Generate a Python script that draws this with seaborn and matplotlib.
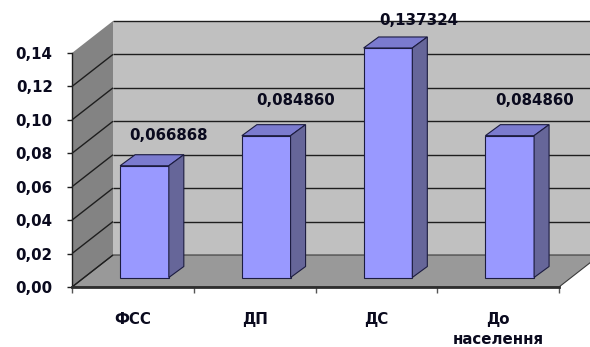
import matplotlib
matplotlib.use("Agg")
import matplotlib.pyplot as plt
import seaborn as sns
import pandas as pd
from matplotlib.patches import Polygon
from matplotlib.transforms import ScaledTranslation
from matplotlib.ticker import FixedLocator, FuncFormatter

# ---- data ----
categories = ["ФСС", "ДП", "ДС", "До\nнаселення"]
values = [0.066868, 0.084860, 0.137324, 0.084860]
value_labels = ["0,066868", "0,084860", "0,137324", "0,084860"]
y_ticks = [0.00, 0.02, 0.04, 0.06, 0.08, 0.10, 0.12, 0.14]

# ---- style ----
sns.set_theme(style="white")
plt.rcParams['font.family'] = ['DejaVu Sans']
FS = 10.8
TXT = "#0a0a1e"
W, H = 590, 347
PX_X = 487 / 4.0          # pixels per category
PX_Y = 234 / 0.14         # pixels per value unit
D, DY = 41 / PX_X, 32 / PX_Y          # wall depth (data units)
BD, BDY = 15 / PX_X, 11 / PX_Y        # bar depth (data units)
label_offsets = [(36, 40), (41, 45), (42, 37), (37, 45)]  # px from (i, v)

fig = plt.figure(figsize=(W / 100, H / 100), dpi=100)
ax = fig.add_axes([72 / W, (H - 287) / H, 487 / W, 234 / H])
ax.patch.set_visible(False)

df = pd.DataFrame({"cat": categories, "val": values})
sns.barplot(data=df, x="cat", y="val", ax=ax, color="#9999FF", width=0.40,
            saturation=1, edgecolor="#1c1c40", linewidth=0.8)
ax.set_xlim(-0.5, 3.5)
ax.set_ylim(0, 0.14)

# walls and floor
x0, x1, ytop = -0.5, 3.5, 0.14
back = Polygon([(x0 + D, DY), (x1 + D, DY), (x1 + D, ytop + DY), (x0 + D, ytop + DY)],
               closed=True, facecolor="#C0C0C0", edgecolor="none", zorder=0.5,
               transform=ax.transData, clip_on=False)
side = Polygon([(x0, 0), (x0, ytop), (x0 + D, ytop + DY), (x0 + D, DY)],
               closed=True, facecolor="#838383", edgecolor="none", zorder=0.6,
               transform=ax.transData, clip_on=False)
floor = Polygon([(x0, 0), (x1, 0), (x1 + D, DY), (x0 + D, DY)],
                closed=True, facecolor="#999999", edgecolor="#3a3a3a", linewidth=0.8,
                zorder=0.7, transform=ax.transData, clip_on=False)
for p in (back, side, floor):
    ax.add_patch(p)

for v in y_ticks:
    if v > 0:
        ax.plot([x0 + D, x1 + D], [v + DY, v + DY], color="#1e1e1e", lw=1.0,
                zorder=1, clip_on=False, solid_capstyle="butt")
    if v < ytop:
        ax.plot([x0, x0 + D], [v, v + DY], color="#1e1e1e", lw=1.0,
                zorder=1, clip_on=False, solid_capstyle="butt")

# 3D bars: shift front faces into depth and add side/top faces
shift = ax.transData + ScaledTranslation(11.6 / 100, 9.5 / 100, fig.dpi_scale_trans)
for p in list(ax.patches):
    if p in (back, side, floor):
        continue
    p.set_transform(shift)
    p.set_clip_on(False)
    p.set_zorder(3)
    bx, bw, bh = p.get_x(), p.get_width(), p.get_height()
    top = Polygon([(bx, bh), (bx + bw, bh), (bx + bw + BD, bh + BDY), (bx + BD, bh + BDY)],
                  closed=True, facecolor="#7B7BCF", edgecolor="#1c1c40", linewidth=0.8,
                  zorder=3, transform=shift, clip_on=False)
    sd = Polygon([(bx + bw, 0), (bx + bw + BD, BDY), (bx + bw + BD, bh + BDY), (bx + bw, bh)],
                 closed=True, facecolor="#666699", edgecolor="#1c1c40", linewidth=0.8,
                 zorder=3, transform=shift, clip_on=False)
    ax.add_patch(top)
    ax.add_patch(sd)

# value labels
for i, (v, lab) in enumerate(zip(values, value_labels)):
    dx, dy = label_offsets[i]
    ax.annotate(lab, xy=(i, v), xytext=(dx * 0.72, dy * 0.72), textcoords="offset points",
                ha="center", va="center", fontsize=FS, fontweight="bold", color=TXT,
                zorder=6, annotation_clip=False)

# axes styling
for s in ("top", "right"):
    ax.spines[s].set_visible(False)
ax.spines["left"].set_color("#1e1e1e")
ax.spines["left"].set_linewidth(1.0)
ax.spines["bottom"].set_color("#2e2e2e")
ax.spines["bottom"].set_linewidth(2.0)
ax.spines["left"].set_zorder(2)
ax.spines["bottom"].set_zorder(2)

ax.yaxis.set_major_locator(FixedLocator(y_ticks))
ax.yaxis.set_major_formatter(FuncFormatter(lambda v, _: f"{v:.2f}".replace(".", ",")))
ax.tick_params(axis="y", which="major", left=True, length=3.6, width=1.0,
               color="#1e1e1e", pad=10.3, labelsize=FS, labelcolor=TXT)
for t in ax.get_yticklabels():
    t.set_fontweight("bold")

ax.set_xticks(range(len(categories)))
ax.set_xticklabels(categories, fontsize=FS, fontweight="bold", color=TXT, linespacing=1.45)
ax.xaxis.set_minor_locator(FixedLocator([-0.5, 0.5, 1.5, 2.5, 3.5]))
ax.tick_params(axis="x", which="major", bottom=True, length=0, pad=18)
ax.tick_params(axis="x", which="minor", bottom=True, length=4, width=1.0, color="#555555")
ax.set_xlabel("")
ax.set_ylabel("")

fig.savefig("out.png", dpi=100, facecolor="white")
